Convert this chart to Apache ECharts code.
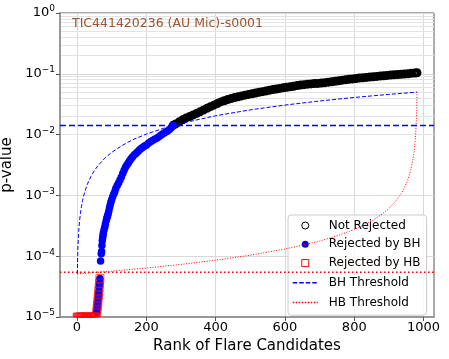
<!DOCTYPE html>
<html>
<head>
<meta charset="utf-8">
<script src="https://cdn.jsdelivr.net/npm/echarts@6/dist/echarts.min.js"></script>
<style>
  html, body { margin: 0; padding: 0; background: #fff; }
  #chart { width: 449px; height: 359px; }
</style>
</head>
<body>
<div id="chart"></div>
<script>
// p-values of flare candidates, sorted by rank
const hbRank = [1, 3, 5, 7, 9, 11, 13, 15, 17, 19, 21, 23, 25, 27, 29, 31, 33, 35, 37, 39, 41, 43, 45, 47, 49, 51, 53, 55,
  57, 58, 59, 60, 61, 62, 63, 64, 65, 66]
const hbP = [1e-5, 1e-5, 1e-5, 1e-5, 1e-5, 1e-5, 1e-5, 1e-5, 1e-5, 1e-5, 1e-5, 1e-5, 1e-5, 1e-5, 1e-5, 1e-5, 1e-5, 1e-5, 1e-5, 1e-5, 1e-5, 1e-5, 1e-5, 1e-5, 1e-5, 1e-5, 1e-5, 1e-5,
  1.2e-5, 1.35e-5, 1.55e-5, 1.75e-5, 2.0e-5, 2.3e-5, 2.65e-5, 3.1e-5, 3.6e-5, 4.3e-5]

const bhRank = [57, 58, 59, 60, 61, 62, 63, 64, 65, 66,
  68, 70, 71, 72, 73, 74, 75, 76, 78, 80, 82, 84, 86, 88, 90, 92, 94, 96, 98, 100,
  103, 106, 109, 112, 116, 120, 124, 128, 132, 136, 140, 144, 148, 152, 156, 160, 165, 170, 175, 180,
  185, 190, 195, 200, 206, 212, 218, 224, 230, 236, 242, 248, 254, 260, 266, 272, 277]
const bhP = [1.2e-5, 1.35e-5, 1.55e-5, 1.75e-5, 2.0e-5, 2.3e-5, 2.65e-5, 3.1e-5, 3.6e-5, 4.3e-5,
  8.3e-5, 1.1e-4, 1.2e-4, 1.5e-4, 1.8e-4, 2.0e-4, 2.2e-4, 2.4e-4, 2.7e-4, 3.0e-4, 3.4e-4, 3.8e-4, 4.2e-4, 4.6e-4, 5.0e-4, 5.6e-4, 6.3e-4, 7.0e-4, 7.8e-4, 8.5e-4,
  9.5e-4, 1.05e-3, 1.15e-3, 1.3e-3, 1.45e-3, 1.6e-3, 1.8e-3, 2.0e-3, 2.3e-3, 2.6e-3, 2.9e-3, 3.15e-3, 3.4e-3, 3.7e-3, 4.0e-3, 4.3e-3, 4.6e-3, 4.9e-3, 5.2e-3, 5.6e-3,
  5.9e-3, 6.2e-3, 6.5e-3, 6.7e-3, 7.2e-3, 7.6e-3, 8.0e-3, 8.4e-3, 8.7e-3, 9.2e-3, 9.8e-3, 1.03e-2, 1.08e-2, 1.13e-2, 1.2e-2, 1.3e-2, 1.41e-2]

const notRank = [278, 285, 295, 305, 315, 325, 335, 345, 355, 365, 375, 385, 395, 405, 415, 425, 435, 445, 455, 465,
  475, 485, 495, 505, 515, 525, 535, 545, 555, 565, 575, 585, 595, 605, 615, 625, 635, 645, 655, 665,
  675, 685, 695, 705, 715, 725, 735, 745, 755, 765, 775, 785, 795, 805, 815, 825, 835, 845, 855, 865,
  875, 885, 895, 905, 915, 925, 935, 945, 955, 965, 975, 981]
const notP = [1.43e-2, 1.5e-2, 1.62e-2, 1.75e-2, 1.88e-2, 1.98e-2, 2.1e-2, 2.23e-2, 2.38e-2, 2.53e-2, 2.7e-2, 2.88e-2, 3.05e-2, 3.25e-2, 3.45e-2, 3.6e-2, 3.78e-2, 3.92e-2, 4.08e-2, 4.2e-2,
  4.33e-2, 4.45e-2, 4.58e-2, 4.7e-2, 4.82e-2, 4.95e-2, 5.08e-2, 5.22e-2, 5.37e-2, 5.5e-2, 5.62e-2, 5.75e-2, 5.88e-2, 6.0e-2, 6.12e-2, 6.25e-2, 6.4e-2, 6.52e-2, 6.62e-2, 6.75e-2,
  6.82e-2, 6.9e-2, 6.95e-2, 7.05e-2, 7.15e-2, 7.28e-2, 7.4e-2, 7.55e-2, 7.7e-2, 7.85e-2, 7.98e-2, 8.1e-2, 8.25e-2, 8.38e-2, 8.5e-2, 8.6e-2, 8.72e-2, 8.82e-2, 8.95e-2, 9.05e-2,
  9.18e-2, 9.3e-2, 9.42e-2, 9.52e-2, 9.62e-2, 9.72e-2, 9.82e-2, 9.92e-2, 1.0e-1, 1.02e-1, 1.03e-1, 1.04e-1]

// threshold curves
const bhThrRank = [1, 2, 3, 4, 5, 6, 8, 10, 13, 16, 20, 25, 30, 40, 50, 60, 80, 100, 130, 160, 200, 250, 300, 400, 500, 600, 700, 800, 900, 981]
const bhThrP = [5.1e-5, 1.02e-4, 1.53e-4, 2.04e-4, 2.55e-4, 3.06e-4, 4.08e-4, 5.1e-4, 6.6e-4, 8.2e-4, 1.02e-3, 1.27e-3, 1.53e-3, 2.04e-3, 2.55e-3, 3.06e-3, 4.08e-3, 5.1e-3, 6.6e-3, 8.2e-3,
  1.02e-2, 1.27e-2, 1.53e-2, 2.04e-2, 2.55e-2, 3.06e-2, 3.57e-2, 4.08e-2, 4.59e-2, 5.0e-2]
const hbThrRank = [1, 100, 200, 300, 400, 500, 600, 700, 750, 800, 850, 880, 900, 920, 935, 945, 955, 962, 968, 972, 975, 977, 979, 980, 981]
const hbThrP = [5.1e-5, 5.67e-5, 6.39e-5, 7.33e-5, 8.59e-5, 1.04e-4, 1.31e-4, 1.77e-4, 2.16e-4, 2.75e-4, 3.79e-4, 4.9e-4, 6.1e-4, 8.1e-4, 1.06e-3, 1.35e-3, 1.85e-3, 2.5e-3,
  3.57e-3, 5.0e-3, 7.1e-3, 1.0e-2, 1.67e-2, 2.5e-2, 5.0e-2]
const bhCut = 0.0141
const hbCut = 5.45e-5

// ticks
const xTicks = [0, 200, 400, 600, 800, 1000]
const yTicks = [1e-5, 1e-4, 1e-3, 1e-2, 1e-1, 1]
const minorMant = [2, 3, 4, 5, 6, 7, 8, 9]

const titleText = 'TIC441420236 (AU Mic)-s0001'
const xMin = -49
const xMax = 1030
const yMin = 1e-5

const font = 'DejaVu Sans'
const zip = (a, b) => a.map((v, i) => [v, b[i]])

const minorGrid = []
yTicks.slice(0, -1).forEach(d => {
  minorMant.forEach(m => minorGrid.push({ yAxis: d * m }))
})

// 画在坐标轴底线上的点只露出上半部分
const hbData = hbRank.map((r, i) => {
  const onFloor = hbP[i] <= yMin
  return {
    value: [r, hbP[i]],
    symbolSize: onFloor ? [8, 4] : 8,
    symbolOffset: onFloor ? [0, -2] : [0, 0]
  }
})

const circleIcon = 'path://M0 0M25 12M9 6a3.5 3.5 0 1 0 7 0a3.5 3.5 0 1 0 -7 0Z'
const squareIcon = 'path://M0 0M25 12M9 2.5h7v7h-7Z'
const lineIcon = 'path://M0 0M25 12M0 6H25'

const chart = echarts.init(document.getElementById('chart'))
const option = {
  animation: false,
  title: {
    text: titleText,
    left: 72,
    top: 17,
    padding: 0,
    textStyle: { fontFamily: font, fontSize: 12.5, fontWeight: 'normal', color: '#a0522d' }
  },
  grid: {
    left: 60, right: 15, top: 13, bottom: 42,
    containLabel: false,
    outerBoundsMode: 'none',
    show: true,
    borderColor: '#555',
    borderWidth: 1
  },
  legend: {
    orient: 'vertical',
    left: 288,
    top: 215,
    padding: [4, 6, 6, 4],
    itemWidth: 25,
    itemHeight: 12,
    itemGap: 6.3,
    backgroundColor: 'rgba(255,255,255,0.8)',
    borderColor: '#cccccc',
    borderWidth: 1,
    borderRadius: 3,
    textStyle: { fontFamily: font, fontSize: 12, color: '#000', padding: [0, 0, 0, 6] },
    data: [
      { name: 'Not Rejected', icon: circleIcon, itemStyle: { color: 'rgba(0,0,0,0)', borderColor: '#000', borderWidth: 1 } },
      { name: 'Rejected by BH', icon: circleIcon, itemStyle: { color: '#0000ff', borderWidth: 0 } },
      { name: 'Rejected by HB', icon: squareIcon, itemStyle: { color: 'rgba(0,0,0,0)', borderColor: '#ff0000', borderWidth: 1 } },
      { name: 'BH Threshold', icon: lineIcon, itemStyle: { color: 'rgba(0,0,0,0)', borderColor: '#0000ff', borderWidth: 1.5, borderType: [4.5, 2] } },
      { name: 'HB Threshold', icon: lineIcon, itemStyle: { color: 'rgba(0,0,0,0)', borderColor: '#ff0000', borderWidth: 1.5, borderType: [1.5, 1.5] } }
    ]
  },
  xAxis: {
    type: 'value',
    min: xMin,
    max: xMax,
    name: 'Rank of Flare Candidates',
    nameLocation: 'middle',
    nameGap: 19,
    nameTextStyle: { fontFamily: font, fontSize: 15, color: '#000' },
    axisLine: { show: true, onZero: false, lineStyle: { color: '#999', width: 2 } },
    axisTick: { show: true, length: 4, customValues: xTicks, lineStyle: { color: '#555' } },
    axisLabel: {
      customValues: xTicks,
      margin: 4,
      fontFamily: font,
      fontSize: 13,
      color: '#000',
      formatter: function (v) { return String(v) }
    },
    splitLine: { show: true, lineStyle: { color: '#d9d9d9', width: 1 } }
  },
  yAxis: {
    type: 'log',
    logBase: 10,
    min: 1e-5,
    max: 1,
    name: 'p-value',
    nameLocation: 'middle',
    nameGap: 34,
    nameTextStyle: { fontFamily: font, fontSize: 15, color: '#000' },
    axisLine: { show: true, onZero: false, lineStyle: { color: '#999', width: 2 } },
    axisTick: { show: true, length: 4, customValues: yTicks, lineStyle: { color: '#555' } },
    axisLabel: {
      customValues: yTicks,
      margin: 5,
      fontFamily: font,
      color: '#000',
      formatter: function (v) {
        const e = Math.round(Math.log10(v))
        return '{b|10}{s|' + (e < 0 ? '\u2212' + (-e) : e) + '}'
      },
      rich: {
        b: { fontFamily: font, fontSize: 13, color: '#000' },
        s: { fontFamily: font, fontSize: 9, color: '#000', padding: [0, 0, 8, 0] }
      }
    },
    splitLine: { show: true, lineStyle: { color: '#d9d9d9', width: 1 } }
  },
  series: [
    {
      name: 'minorGrid',
      type: 'line',
      data: [],
      silent: true,
      markLine: {
        silent: true,
        z: 0,
        symbol: 'none',
        label: { show: false },
        lineStyle: { color: '#e3e3e3', width: 1, type: 'solid' },
        data: minorGrid
      }
    },
    {
      name: 'Not Rejected',
      type: 'scatter',
      z: 2,
      data: zip(notRank, notP),
      symbol: 'circle',
      symbolSize: 6,
      itemStyle: { color: 'rgba(0,0,0,0)', borderColor: '#000', borderWidth: 3, opacity: 1 }
    },
    {
      name: 'Rejected by BH',
      type: 'scatter',
      z: 3,
      data: zip(bhRank, bhP),
      symbol: 'circle',
      symbolSize: 7.5,
      itemStyle: { color: '#0000ff', opacity: 1 }
    },
    {
      name: 'Rejected by HB',
      type: 'scatter',
      z: 4,
      clip: false,
      data: hbData,
      symbol: 'rect',
      itemStyle: { color: 'rgba(0,0,0,0)', borderColor: 'rgba(255,0,0,0.6)', borderWidth: 1, opacity: 1 }
    },
    {
      name: 'BH Threshold',
      type: 'line',
      z: 5,
      data: zip(bhThrRank, bhThrP),
      symbol: 'none',
      lineStyle: { color: '#0000ff', width: 1, type: [4, 2] },
      itemStyle: { color: '#0000ff' }
    },
    {
      name: 'HB Threshold',
      type: 'line',
      z: 5,
      data: zip(hbThrRank, hbThrP),
      symbol: 'none',
      lineStyle: { color: '#ff0000', width: 1, type: [1, 1.6] },
      itemStyle: { color: '#ff0000' }
    },
    {
      name: 'BH cut',
      type: 'line',
      z: 5,
      data: [[xMin, bhCut], [xMax, bhCut]],
      symbol: 'none',
      silent: true,
      lineStyle: { color: '#0000ff', width: 1.5, type: [6, 3] }
    },
    {
      name: 'HB cut',
      type: 'line',
      z: 5,
      data: [[xMin, hbCut], [xMax, hbCut]],
      symbol: 'none',
      silent: true,
      lineStyle: { color: '#ff0000', width: 1.5, type: [1.5, 2.5] }
    }
  ]
}
chart.setOption(option)
window.addEventListener('resize', function () {
  chart.resize()
})
</script>
</body>
</html>
